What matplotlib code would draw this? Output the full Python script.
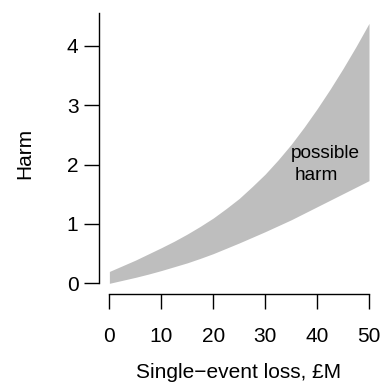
import matplotlib
matplotlib.use("Agg")
import matplotlib.pyplot as plt

# Data
loss = [0, 2.5, 5, 7.5, 10, 12.5, 15, 17.5, 20, 22.5, 25,
        27.5, 30, 32.5, 35, 37.5, 40, 42.5, 45, 47.5, 50]
harm_upper = [0.20, 0.295, 0.39, 0.495, 0.60, 0.71, 0.83, 0.96, 1.10, 1.26, 1.43,
              1.63, 1.84, 2.08, 2.34, 2.63, 2.94, 3.27, 3.62, 3.99, 4.38]
harm_lower = [0.00, 0.05, 0.10, 0.155, 0.215, 0.28, 0.345, 0.42, 0.50, 0.59, 0.68,
              0.775, 0.87, 0.97, 1.07, 1.18, 1.29, 1.40, 1.51, 1.62, 1.73]
x_ticks = [0, 10, 20, 30, 40, 50]
y_ticks = [0, 1, 2, 3, 4]

plt.rcParams['font.family'] = ['Liberation Sans', 'DejaVu Sans']

W, H = 390, 383
fig = plt.figure(figsize=(W / 100, H / 100), dpi=100)
left, right, top, bottom = 99, 379.4, 13, 293.7
ax = fig.add_axes([left / W, (H - bottom) / H, (right - left) / W, (bottom - top) / H])

ax.fill_between(loss, harm_lower, harm_upper, color='#BEBEBE', linewidth=0)

ax.set_xlim(-2, 52)
ax.set_ylim(-0.175, 4.555)

for s in ['top', 'right']:
    ax.spines[s].set_visible(False)
ax.spines['left'].set_bounds(0, 4.555)
ax.spines['bottom'].set_bounds(0, 50)
for s in ['left', 'bottom']:
    ax.spines[s].set_linewidth(1.0)
    ax.spines[s].set_color('black')

ax.set_xticks(x_ticks)
ax.set_yticks(y_ticks)
ax.tick_params(axis='x', direction='out', length=10.8, width=1.0, pad=13, labelsize=15)
ax.tick_params(axis='y', direction='out', length=10.8, width=1.0, pad=4, labelsize=15)

ax.text(41.5, 2.18, 'possible', ha='center', va='center', fontsize=13.7)
ax.text(39.9, 1.81, 'harm', ha='center', va='center', fontsize=13.7)

fig.text(239 / W, (H - 377.7) / H, 'Single\u2212event loss, \u00a3M', ha='center', va='baseline', fontsize=15)
fig.text(25 / W, (H - 153) / H, 'Harm', ha='center', va='center', rotation=90, fontsize=15)

fig.savefig('out.png', dpi=100)
